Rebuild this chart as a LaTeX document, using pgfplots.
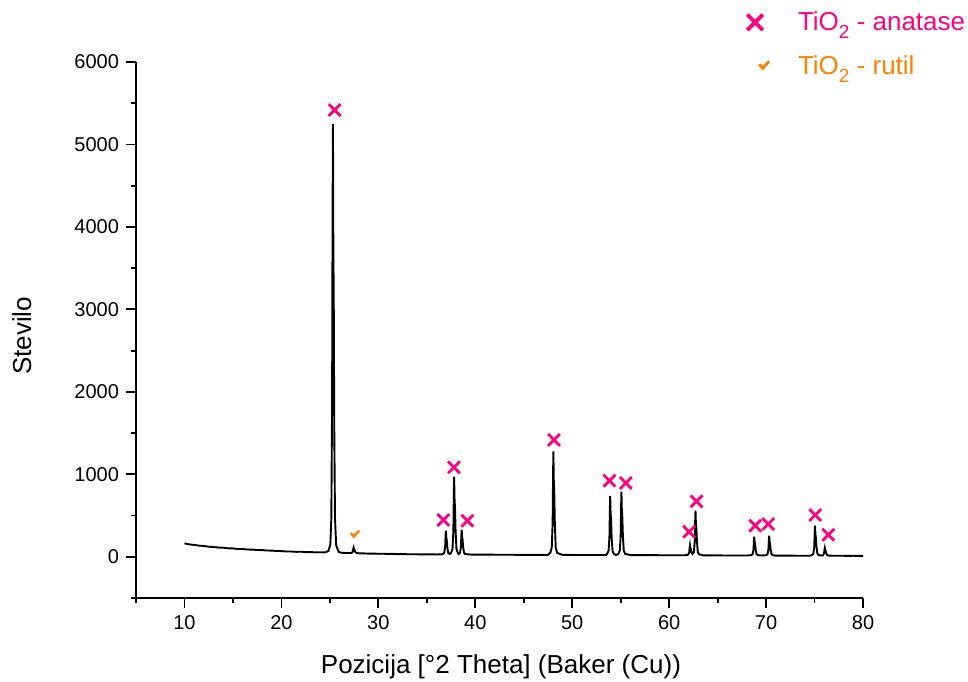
\documentclass[border=0pt]{standalone}
\usepackage{fontspec}
\setmainfont{Liberation Sans}
\usepackage{pgfplots}
\pgfplotsset{compat=1.18}
\definecolor{anat}{RGB}{255,0,128}
\definecolor{rut}{RGB}{255,128,0}
\newcommand{\subtwo}{\raisebox{-4.2pt}{\fontsize{9.5}{10}\selectfont 2}}
\pgfdeclareplotmark{check}{%
  \pgfpathmoveto{\pgfqpoint{-1\pgfplotmarksize}{0.15\pgfplotmarksize}}%
  \pgfpathlineto{\pgfqpoint{-0.6\pgfplotmarksize}{0.45\pgfplotmarksize}}%
  \pgfpathlineto{\pgfqpoint{-0.2\pgfplotmarksize}{0.05\pgfplotmarksize}}%
  \pgfpathlineto{\pgfqpoint{0.7\pgfplotmarksize}{0.95\pgfplotmarksize}}%
  \pgfpathlineto{\pgfqpoint{1\pgfplotmarksize}{0.65\pgfplotmarksize}}%
  \pgfpathlineto{\pgfqpoint{-0.2\pgfplotmarksize}{-0.7\pgfplotmarksize}}%
  \pgfpathclose
  \pgfusepathqfill}
\begin{document}
\begin{tikzpicture}
\begin{axis}[
  scale only axis, width=363.5pt, height=268pt,
  xmin=5, xmax=80, ymin=-500, ymax=6000,
  axis x line*=bottom, axis y line*=left,
  xtick={10,20,...,80}, minor xtick={5,15,...,75},
  ytick={0,1000,...,6000}, minor ytick={-500,500,...,5500},
  tick align=outside, major tick length=5pt, minor tick length=2.5pt,
  tick style={black, line width=0.9pt},
  axis line style={black, line width=0.9pt},
  scaled y ticks=false,
  /pgf/number format/1000 sep={},
  /pgf/number format/assume math mode=true,
  ticklabel style={font=\fontsize{10}{12}\selectfont},
  label style={font=\fontsize{13}{15}\selectfont},
  xlabel={Pozicija [°2 Theta] (Baker (Cu))},
  ylabel={Stevilo},
  xlabel style={at={(axis description cs:0.502,-0.14)}, anchor=base},
  ylabel style={at={(axis description cs:-0.157,0.489)}, anchor=center},
  legend style={draw=none, fill=none, at={(axis description cs:0.832,1.11)}, anchor=north west,
    font=\fontsize{13}{15}\selectfont, row sep=7pt, column sep=0pt,
    /tikz/every odd column/.append style={column sep=12pt}},
  legend cell align=left,
  clip=false,
]
\addplot[black, line width=0.95pt, forget plot] table {
x y
10.0 162
10.5 150
11.0 144
11.5 135
12.0 131
12.5 122
13.0 118
13.5 112
14.0 110
14.5 103
15.0 101
15.5 95
16.0 94
16.5 88
17.0 87
17.5 82
18.0 81
18.5 76
19.0 75
19.5 70
20.0 69
20.5 64
21.0 64
21.5 60
22.0 61
22.5 57
23.0 57
23.5 54
24.0 55
24.5 53
24.85 70
25.05 150
25.15 468
25.23 1871
25.28 4210
25.32 5250
25.36 3690
25.40 3171
25.45 1611
25.53 468
25.65 140
25.9 60
26.2 49
26.6 46
27.0 46
27.13 45
27.28 49
27.37 64
27.42 97
27.45 110
27.49 92
27.54 84
27.60 64
27.69 49
27.83 45
28.0 42
28.5 41
29.0 38
29.5 39
30.0 36
30.5 37
31.0 34
31.5 35
32.0 32
32.5 33
33.0 31
33.5 31
34.0 30
34.5 30
35.0 29
35.5 29
36.0 28
36.5 29
36.65 34
36.80 48
36.89 114
36.94 258
36.97 316
37.01 235
37.06 201
37.12 114
37.21 48
37.35 34
37.50 46
37.65 93
37.74 311
37.79 783
37.82 972
37.86 707
37.91 594
37.97 311
38.06 93
38.20 46
38.28 33
38.43 48
38.52 117
38.57 268
38.60 328
38.64 244
38.69 208
38.75 117
38.84 48
38.98 33
39.5 27
40.0 26
40.5 27
41.0 25
41.5 26
42.0 25
42.5 24
43.0 25
43.5 24
44.0 24
44.5 23
45.0 24
45.5 23
46.0 23
46.5 22
47.0 23
47.5 23
47.74 48
47.89 111
47.98 400
48.03 1028
48.06 1279
48.10 927
48.15 777
48.21 400
48.30 111
48.44 48
49.0 22
49.5 23
50.0 22
50.5 21
51.0 22
51.5 21
52.0 22
52.5 21
53.0 21
53.5 22
53.60 36
53.75 72
53.84 236
53.89 594
53.92 737
53.96 537
54.01 451
54.07 236
54.16 72
54.30 36
54.5 21
54.76 36
54.91 75
55.00 252
55.05 636
55.08 790
55.12 575
55.17 482
55.23 252
55.32 75
55.46 36
56.0 21
56.5 20
57.0 20
57.5 21
58.0 19
58.5 20
59.0 19
59.5 19
60.0 18
60.5 19
61.0 18
61.5 18
61.83 20
61.98 27
62.07 55
62.12 116
62.15 140
62.19 106
62.24 91
62.30 55
62.40 35
62.55 56
62.64 181
62.69 452
62.72 560
62.76 408
62.81 343
62.87 181
62.96 56
63.10 29
63.5 17
64.0 17
64.5 16
65.0 17
65.5 16
66.0 16
66.5 15
67.0 16
67.5 15
68.0 15
68.46 20
68.61 31
68.70 83
68.75 197
68.78 243
68.82 179
68.87 152
68.93 83
69.02 31
69.16 20
69.5 15
70.00 19
70.15 31
70.24 86
70.29 207
70.32 255
70.36 188
70.41 159
70.47 86
70.56 31
70.70 19
71.0 14
71.5 14
72.0 13
72.5 14
73.0 13
73.5 13
74.0 13
74.5 12
74.73 20
74.88 38
74.97 122
75.02 303
75.05 376
75.09 274
75.14 231
75.20 122
75.29 38
75.43 20
75.74 15
75.89 20
75.98 41
76.03 87
76.06 106
76.10 80
76.15 69
76.21 41
76.30 20
76.44 15
77.0 12
77.5 12
78.0 12
78.5 11
79.0 12
79.5 11
80.0 11
};
\addplot[only marks, mark=x, mark size=4.2pt, anat, line width=1.4pt,
  legend image post style={mark size=5.5pt, line width=1.9pt}] coordinates {
(25.49,5417) (36.70,446) (37.80,1085) (39.18,437) (48.12,1417)
(53.84,923) (55.53,895) (62.06,304) (62.83,672) (68.88,377)
(70.22,397) (75.07,506) (76.42,267)
};
\addlegendentry{\textcolor{anat}{TiO\subtwo{} - anatase}}
\addplot[only marks, mark=check, mark size=2.6pt, rut,
  legend image post style={xshift=4.5pt, mark size=3pt}] coordinates {
(27.58,267)
};
\addlegendentry{\textcolor{rut}{TiO\subtwo{} - rutil}}
\end{axis}
\pgfresetboundingbox
\path[use as bounding box] ([shift={(-68pt,-41.5pt)}]current axis.south west) rectangle ([shift={(52.5pt,31pt)}]current axis.north east);
\end{tikzpicture}
\end{document}
